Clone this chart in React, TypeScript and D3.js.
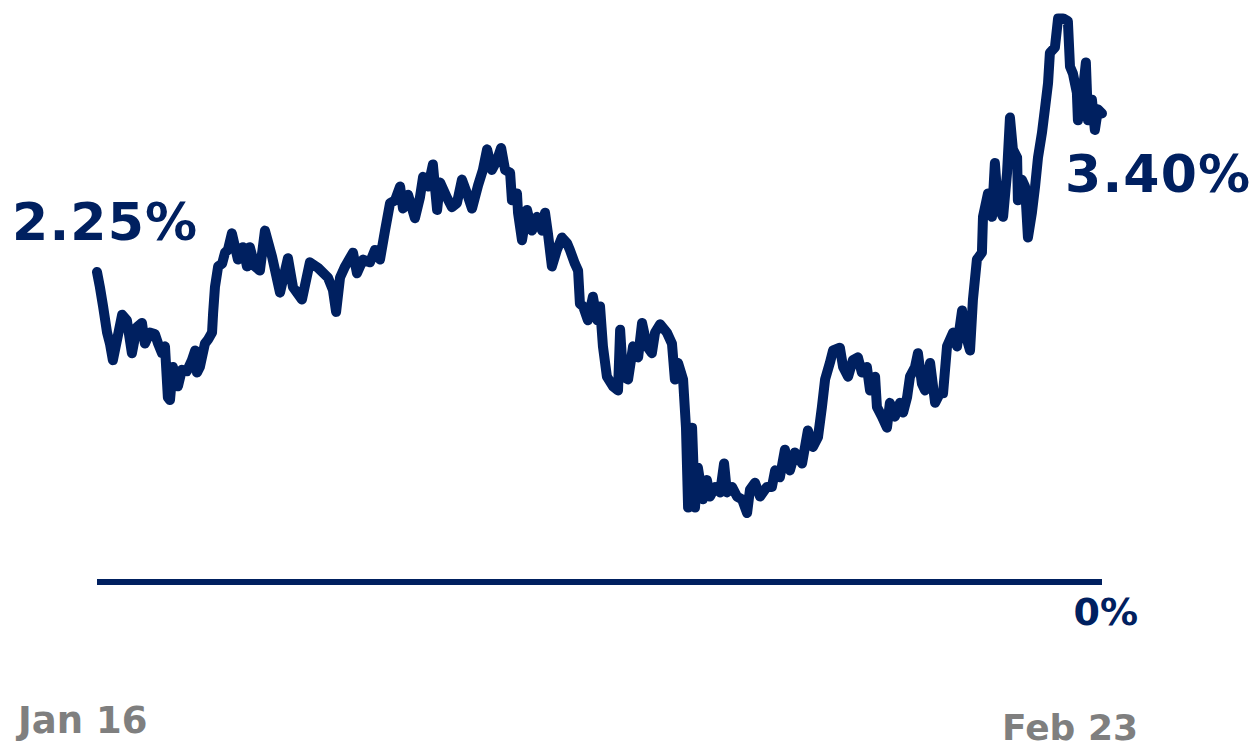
import React, { useEffect, useRef } from 'react';
import * as d3 from 'd3';

// days since Jan 16
const days = [
  0, 0.11, 0.23, 0.38, 0.49, 0.6, 0.76, 0.95, 1.13, 1.32, 1.51, 1.7, 1.81, 2.0, 2.19, 2.31, 2.46, 2.57, 2.68, 2.76,
  2.87, 3.06, 3.21, 3.4, 3.59, 3.71, 3.78, 3.89, 4.08, 4.2, 4.35, 4.39, 4.46, 4.58, 4.73, 4.84, 4.95, 5.1, 5.22, 5.33,
  5.52, 5.67, 5.78, 5.97, 6.16, 6.35, 6.62, 6.92, 7.22, 7.41, 7.75, 8.05, 8.36, 8.73, 8.92, 9.04, 9.19, 9.38, 9.68, 9.83,
  10.06, 10.32, 10.51, 10.7, 10.89, 11.08, 11.27, 11.46, 11.57, 11.76, 12.02, 12.21, 12.33, 12.52, 12.7, 12.86, 12.97, 13.23, 13.42, 13.61,
  13.8, 13.99, 14.18, 14.41, 14.59, 14.75, 14.93, 15.12, 15.28, 15.43, 15.62, 15.69, 15.88, 15.92, 16.07, 16.26, 16.45, 16.64, 16.83, 16.94,
  17.05, 17.2, 17.39, 17.58, 17.77, 17.88, 18.07, 18.19, 18.26, 18.38, 18.56, 18.75, 18.91, 19.02, 19.13, 19.28, 19.51, 19.7, 19.78, 19.89,
  20.08, 20.27, 20.46, 20.61, 20.8, 20.98, 21.1, 21.29, 21.55, 21.74, 21.85, 21.97, 22.16, 22.27, 22.35, 22.5, 22.61, 22.72, 22.91, 23.06,
  23.18, 23.37, 23.56, 23.71, 23.82, 24.01, 24.2, 24.39, 24.58, 24.69, 24.88, 25.07, 25.33, 25.52, 25.64, 25.82, 26.01, 26.2, 26.39, 26.66,
  26.88, 27.07, 27.26, 27.41, 27.53, 27.71, 27.83, 28.09, 28.21, 28.4, 28.58, 28.77, 28.92, 29.11, 29.23, 29.42, 29.49, 29.68, 29.87, 29.98,
  30.17, 30.36, 30.48, 30.63, 30.74, 30.93, 31.04, 31.19, 31.31, 31.5, 31.69, 31.87, 31.99, 32.14, 32.37, 32.52, 32.71, 32.82, 33.01, 33.12,
  33.27, 33.46, 33.5, 33.69, 33.84, 33.95, 34.07, 34.26, 34.41, 34.52, 34.63, 34.79, 34.82, 34.97, 35.09, 35.2, 35.35, 35.47, 35.58, 35.73,
  35.84, 35.96, 36.03, 36.22, 36.34, 36.53, 36.71, 36.79, 36.9, 37.05, 37.09, 37.28, 37.39, 37.47, 37.62, 37.73, 37.85, 38.0,
];

// yield, %
const yields = [
  2.25, 2.14, 2.0, 1.81, 1.73, 1.61, 1.76, 1.94, 1.9, 1.66, 1.85, 1.88, 1.73, 1.81, 1.8, 1.73, 1.66, 1.71, 1.34, 1.32,
  1.56, 1.42, 1.54, 1.53, 1.61, 1.68, 1.52, 1.56, 1.73, 1.76, 1.81, 1.95, 2.14, 2.29, 2.31, 2.39, 2.41, 2.53, 2.43, 2.34,
  2.43, 2.29, 2.43, 2.29, 2.26, 2.55, 2.36, 2.1, 2.35, 2.14, 2.05, 2.32, 2.28, 2.21, 2.12, 1.96, 2.21, 2.29, 2.39, 2.24,
  2.34, 2.32, 2.41, 2.34, 2.55, 2.75, 2.77, 2.87, 2.71, 2.81, 2.64, 2.79, 2.94, 2.87, 3.03, 2.7, 2.9, 2.79, 2.72, 2.75,
  2.92, 2.82, 2.71, 2.88, 2.99, 3.14, 2.99, 3.06, 3.15, 2.99, 2.97, 2.77, 2.82, 2.68, 2.48, 2.7, 2.55, 2.65, 2.55, 2.68,
  2.53, 2.29, 2.41, 2.5, 2.46, 2.41, 2.31, 2.26, 2.02, 2.0, 1.9, 2.07, 1.9, 2.0, 1.71, 1.49, 1.42, 1.39, 1.83, 1.49,
  1.47, 1.71, 1.63, 1.88, 1.71, 1.66, 1.81, 1.87, 1.81, 1.73, 1.47, 1.59, 1.47, 1.12, 0.54, 1.12, 0.54, 0.83, 0.6, 0.74,
  0.62, 0.69, 0.65, 0.86, 0.65, 0.69, 0.62, 0.6, 0.5, 0.67, 0.72, 0.62, 0.69, 0.69, 0.81, 0.76, 0.96, 0.81, 0.94, 0.86,
  1.1, 0.98, 1.05, 1.27, 1.47, 1.59, 1.68, 1.7, 1.56, 1.49, 1.61, 1.63, 1.52, 1.56, 1.39, 1.49, 1.27, 1.2, 1.12, 1.3,
  1.2, 1.3, 1.23, 1.34, 1.49, 1.56, 1.66, 1.44, 1.39, 1.59, 1.3, 1.37, 1.37, 1.71, 1.81, 1.71, 1.97, 1.81, 1.68, 2.05,
  2.34, 2.39, 2.65, 2.82, 2.65, 3.04, 2.72, 2.65, 2.97, 3.37, 3.14, 3.08, 2.77, 2.92, 2.87, 2.5, 2.68, 2.87, 3.08, 3.26,
  3.43, 3.62, 3.84, 3.88, 4.09, 4.09, 4.07, 3.74, 3.69, 3.55, 3.35, 3.57, 3.77, 3.35, 3.5, 3.28, 3.43, 3.4,
];

const startLabel = '2.25%';
const endLabel = '3.40%';
const zeroLabel = '0%';
const dateLabels = ['Jan 16', 'Feb 23'];

const NAVY = '#002060';
const GREY = '#7f7f7f';
const FONT = '"DejaVu Sans", Verdana, sans-serif';

export default function App() {
  const svgRef = useRef<SVGSVGElement>(null);

  useEffect(() => {
    if (!svgRef.current) return;
    const svg = d3.select(svgRef.current);
    svg.selectAll('*').remove();

    const x = d3.scaleLinear().domain([0, 38]).range([97, 1102]);
    const y = d3.scaleLinear().domain([0, 4]).range([582, 30.8]);

    const data = days.map((d, i) => ({ d, v: yields[i] }));

    // zero line
    svg
      .append('line')
      .attr('x1', x(0))
      .attr('x2', x(38))
      .attr('y1', y(0))
      .attr('y2', y(0))
      .attr('stroke', NAVY)
      .attr('stroke-width', 6);

    const line = d3
      .line<{ d: number; v: number }>()
      .x((p) => x(p.d))
      .y((p) => y(p.v));

    svg
      .append('path')
      .datum(data)
      .attr('fill', 'none')
      .attr('stroke', NAVY)
      .attr('stroke-width', 10)
      .attr('stroke-linejoin', 'round')
      .attr('stroke-linecap', 'round')
      .attr('d', line);

    // value labels
    svg
      .append('text')
      .attr('x', 12)
      .attr('y', 240)
      .attr('font-family', FONT)
      .attr('font-weight', 'bold')
      .attr('font-size', 52)
      .attr('letter-spacing', 1.2)
      .attr('fill', NAVY)
      .text(startLabel);

    svg
      .append('text')
      .attr('x', 1065)
      .attr('y', 192)
      .attr('font-family', FONT)
      .attr('font-weight', 'bold')
      .attr('font-size', 52)
      .attr('letter-spacing', 1.2)
      .attr('fill', NAVY)
      .text(endLabel);

    svg
      .append('text')
      .attr('x', 1138)
      .attr('y', 625)
      .attr('text-anchor', 'end')
      .attr('font-family', FONT)
      .attr('font-weight', 'bold')
      .attr('font-size', 38)
      .attr('fill', NAVY)
      .text(zeroLabel);

    // date labels
    svg
      .append('text')
      .attr('x', 18)
      .attr('y', 733)
      .attr('font-family', FONT)
      .attr('font-weight', 'bold')
      .attr('font-size', 37)
      .attr('fill', GREY)
      .text(dateLabels[0]);

    svg
      .append('text')
      .attr('x', 1138)
      .attr('y', 740)
      .attr('text-anchor', 'end')
      .attr('font-family', FONT)
      .attr('font-weight', 'bold')
      .attr('font-size', 36)
      .attr('fill', GREY)
      .text(dateLabels[1]);
  }, []);

  return (
    <svg
      ref={svgRef}
      width={1255}
      height={747}
      style={{ position: 'absolute', left: 0, top: 0, background: '#fff' }}
    />
  );
}
